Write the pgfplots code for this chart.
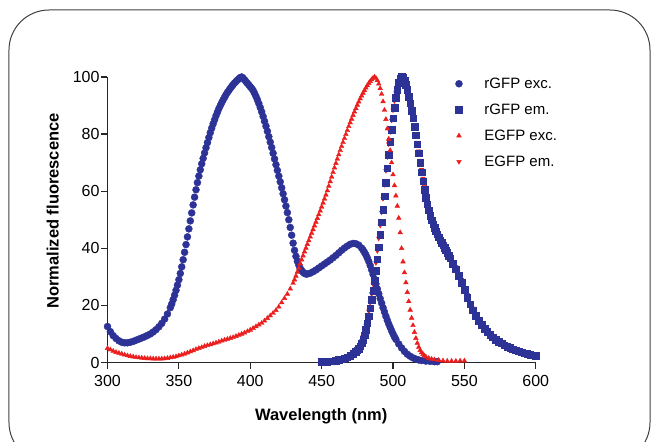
\documentclass[border=0pt]{standalone}
\usepackage{pgfplots}
\usepackage{pgfplotstable}
\pgfplotsset{compat=1.18}
\usepackage{fontspec}
\setmainfont{Liberation Sans}
\definecolor{gfpblue}{RGB}{45,50,150}
\definecolor{gfpred}{RGB}{235,30,30}

% rGFP excitation
\pgfplotstableread{
x y
300 12.6
302 10.8
304 9.4
306 8.4
308 7.6
310 7.1
312 6.9
314 6.9
316 7.1
318 7.4
320 7.8
322 8.2
324 8.6
326 9.0
328 9.5
330 10.0
332 10.7
334 11.5
336 12.5
338 13.7
340 15.2
342 17.0
344 19.2
345 20.5
346 22.0
347 23.6
348 25.3
349 27.1
350 29.0
351 31.2
352 33.5
353 36.0
354 38.6
355 41.3
356 44.0
357 46.8
358 49.6
359 52.4
360 55.2
361 57.9
362 60.5
363 63.0
364 65.3
365 67.5
366 69.6
367 71.5
368 73.4
369 75.2
370 77.0
371 78.8
372 80.5
373 82.1
374 83.6
375 85.0
376 86.4
377 87.7
378 88.9
379 90.0
380 91.0
381 92.0
382 92.9
383 93.8
384 94.6
385 95.3
386 96.0
387 96.7
388 97.3
389 97.9
390 98.4
391 98.9
392 99.4
393 99.8
394 100.0
395 99.6
396 99.0
397 98.4
398 97.8
399 97.2
400 96.6
401 96.0
402 95.3
403 94.3
404 93.2
405 92.0
406 90.7
407 89.3
408 87.8
409 86.2
410 84.5
411 82.8
412 81.0
413 79.1
414 77.2
415 75.3
416 73.3
417 71.3
418 69.3
419 67.3
420 65.3
421 63.3
422 61.2
423 59.1
424 57.0
425 54.8
426 52.5
427 50.0
428 47.3
429 44.6
430 41.8
431 39.3
432 37.2
433 35.5
434 34.1
435 33.0
436 32.2
437 31.6
438 31.2
439 31.0
440 31.0
442 31.3
444 31.8
446 32.4
448 33.1
450 33.8
452 34.5
454 35.2
456 35.9
458 36.7
460 37.5
462 38.4
464 39.3
466 40.1
468 40.8
470 41.4
472 41.7
474 41.6
476 41.1
478 40.1
479 39.4
480 38.6
481 37.7
482 36.6
483 35.4
484 34.0
485 32.5
486 30.9
487 29.2
488 27.5
489 25.8
490 24.1
491 22.4
492 20.8
493 19.2
494 17.7
495 16.2
496 14.8
497 13.5
498 12.3
499 11.1
500 10.0
501 9.0
502 8.1
504 6.5
506 5.1
508 3.9
510 2.9
512 2.2
514 1.6
516 1.2
518 0.9
520 0.7
523 0.5
526 0.4
529 0.3
531 0.3
}\rexc

% rGFP emission
\pgfplotstableread{
x y
450 0.2
452 0.2
454 0.3
456 0.4
458 0.5
460 0.7
462 0.9
464 1.2
466 1.5
468 1.9
470 2.4
472 3.0
474 3.8
475 4.3
476 4.9
477 5.7
478 6.7
479 8.0
480 9.6
481 11.5
482 13.7
483 16.2
484 19.0
485 22.0
486 25.2
487 28.6
488 32.2
489 36.2
490 40.4
491 44.8
492 49.2
493 53.6
494 58.2
495 63.0
496 68.0
497 72.8
498 77.3
499 81.6
500 85.6
501 89.3
502 92.7
503 95.6
504 97.9
505 99.4
506 100.0
507 99.8
508 98.9
509 97.4
510 95.5
511 93.2
512 90.8
513 88.2
514 85.5
515 82.6
516 79.6
517 76.5
518 73.3
519 70.0
520 66.7
521 63.5
522 60.5
523 57.8
524 55.4
525 53.3
526 51.5
527 49.9
528 48.5
529 47.2
530 46.0
531 44.9
532 43.9
533 42.9
534 42.0
535 41.1
536 40.2
537 39.3
538 38.4
539 37.5
540 36.6
542 34.7
544 32.7
546 30.5
548 28.0
550 25.4
552 22.8
554 20.4
556 18.3
558 16.4
560 14.7
562 13.2
564 11.9
566 10.7
568 9.7
570 8.8
572 8.0
574 7.3
576 6.7
578 6.1
580 5.6
582 5.1
584 4.7
586 4.3
588 3.9
590 3.6
592 3.3
594 3.0
596 2.7
598 2.5
600 2.3
}\rem

% EGFP excitation
\pgfplotstableread{
x y
300 5.0
302 4.5
304 4.0
306 3.6
308 3.3
310 3.0
312 2.7
314 2.4
316 2.2
318 2.0
320 1.8
322 1.7
324 1.6
326 1.5
328 1.4
330 1.4
332 1.3
334 1.3
336 1.3
338 1.3
340 1.4
342 1.5
344 1.7
346 1.9
348 2.1
350 2.4
352 2.7
354 3.0
356 3.4
358 3.8
360 4.2
362 4.6
364 5.0
366 5.3
368 5.7
370 6.0
372 6.3
374 6.6
376 6.9
378 7.2
380 7.6
382 7.9
384 8.2
386 8.5
388 8.8
390 9.2
392 9.6
394 10.0
396 10.4
398 10.9
400 11.4
402 12.0
404 12.6
406 13.2
408 13.8
410 14.6
412 15.5
414 16.4
416 17.3
418 18.3
420 19.5
422 21.0
424 22.5
426 24.0
428 25.8
430 27.8
431 29.0
432 30.3
433 31.7
434 33.1
435 34.6
436 36.0
437 37.4
438 38.8
439 40.1
440 41.4
441 42.7
442 44.0
443 45.3
444 46.6
445 47.9
446 49.2
447 50.5
448 51.8
449 53.1
450 54.5
451 55.9
452 57.3
453 58.7
454 60.2
455 61.8
456 63.4
457 65.0
458 66.6
459 68.2
460 69.8
461 71.3
462 72.8
463 74.3
464 75.7
465 77.1
466 78.5
467 79.9
468 81.3
469 82.7
470 84.0
471 85.3
472 86.6
473 87.8
474 89.0
475 90.2
476 91.3
477 92.4
478 93.4
479 94.4
480 95.3
481 96.2
482 97.0
483 97.8
484 98.5
485 99.1
486 99.6
487 100.0
488 99.6
489 98.8
490 97.6
491 96.0
492 94.0
493 91.4
494 88.4
495 85.2
496 81.9
497 78.3
498 74.3
499 70.0
500 65.8
501 62.0
502 58.4
503 54.8
504 50.6
505 45.5
506 40.0
507 35.3
508 31.5
509 28.0
510 24.6
511 21.4
512 18.4
513 15.6
514 13.0
515 10.6
516 8.5
517 6.8
518 5.4
519 4.3
520 3.5
521 2.9
522 2.4
523 2.0
525 1.5
527 1.2
529 1.0
532 0.8
535 0.6
538 0.5
541 0.5
544 0.5
547 0.6
550 0.6
}\eexc

% EGFP emission (mostly hidden under rGFP em.)
\pgfplotstableread{
x y
450 0.3
454 0.4
458 0.6
462 1.0
466 1.6
470 2.6
472 3.3
474 4.2
476 5.5
477 6.4
478 7.6
479 9.1
480 10.9
481 13.0
482 15.4
483 18.0
484 20.9
485 24.0
486 27.4
487 31.0
488 34.9
489 39.1
490 43.5
491 48.0
492 52.6
493 57.4
494 62.3
495 67.2
496 72.0
497 76.5
498 80.8
499 84.8
500 88.4
501 91.6
502 94.4
503 96.7
504 98.5
505 99.6
506 100.0
507 99.8
508 99.1
509 97.8
510 96.0
511 93.8
512 91.4
513 88.8
514 86.1
515 83.2
516 80.2
517 77.1
518 74.0
519 70.8
520 67.6
521 64.5
522 61.6
523 58.9
524 56.5
525 54.4
526 52.6
527 51.0
528 49.5
530 47.0
532 44.8
534 42.8
536 41.0
538 39.2
540 37.4
544 33.6
548 29.0
552 23.8
556 19.0
560 15.2
565 11.6
570 9.2
575 7.4
580 6.0
585 4.8
590 3.8
595 3.0
600 2.4
}\eem

\begin{document}
\begin{tikzpicture}[x=1pt,y=1pt]
\useasboundingbox (-107.5,-79.5) rectangle (546.5,362.5);
\draw[line width=1pt, black!75, rounded corners=40pt] (-98.5,-100) rectangle (542.5,352.5);
\begin{axis}[
  at={(0,0)}, anchor=south west,
  scale only axis, width=428.3pt, height=285.5pt,
  xmin=300, xmax=600, ymin=0, ymax=100,
  clip=false,
  axis x line*=bottom, axis y line*=left,
  axis line style={line width=1.2pt, black!85},
  xtick={300,350,...,600}, ytick={0,20,...,100},
  tick align=outside, major tick length=6pt,
  tick style={line width=1.2pt, black!85},
  tick label style={font=\fontsize{16}{18}\selectfont},
  xticklabel style={yshift=-3pt},
  yticklabel style={xshift=1.5pt},
  /pgf/number format/assume math mode=true,
  xlabel={Wavelength (nm)}, ylabel={Normalized fluorescence},
  label style={font=\fontsize{16.5}{18}\selectfont\bfseries},
  xlabel style={at={(axis description cs:0.499,-0.187)}, anchor=center},
  ylabel style={at={(axis description cs:-0.128,0.531)}, anchor=center},
  legend style={at={(axis description cs:0.805,1.012)}, anchor=north west,
    draw=none, fill=none, font=\fontsize{15}{17}\selectfont,
    row sep=10pt, column sep=20pt},
  legend cell align=left,
]
\addplot[only marks, mark=triangle*, mark size=2.6pt, color=gfpred,
  mark options={rotate=180}, forget plot] table {\eem};
\addplot[only marks, mark=*, mark size=3.5pt, color=gfpblue] table {\rexc};
\addlegendentry{rGFP exc.}
\addplot[only marks, mark=square*, mark size=3.3pt, color=gfpblue] table {\rem};
\addlegendentry{rGFP em.}
\addplot[only marks, mark=triangle*, mark size=2.7pt, color=gfpred] table {\eexc};
\addlegendentry{EGFP exc.}
\addlegendimage{only marks, mark=triangle*, mark size=2.6pt, color=gfpred, mark options={rotate=180}}
\addlegendentry{EGFP em.}
\end{axis}
\end{tikzpicture}
\end{document}
